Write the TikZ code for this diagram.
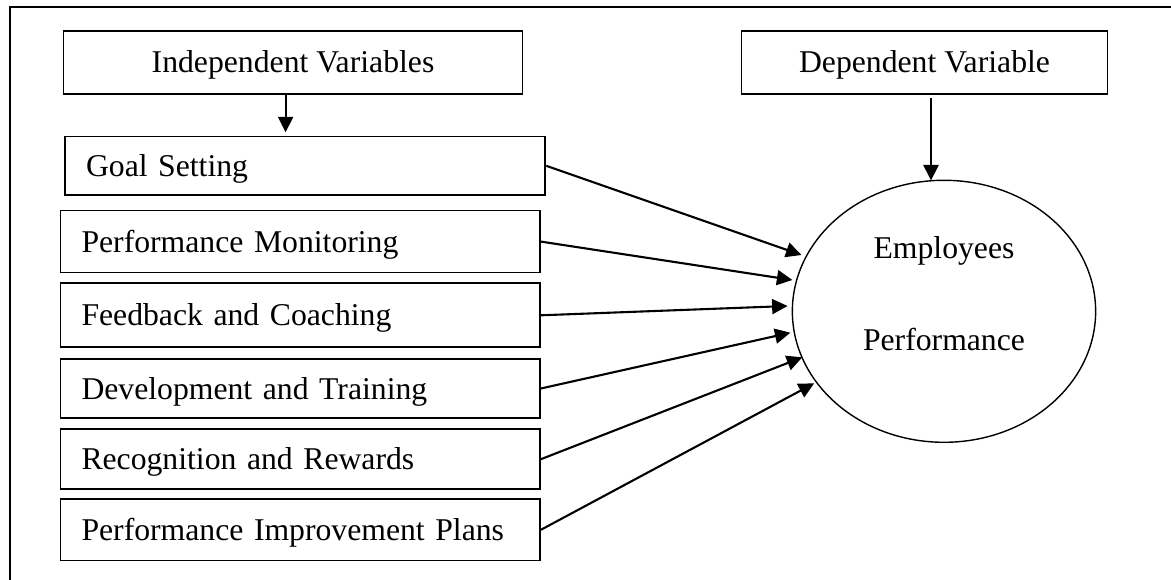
\documentclass[tikz,border=0pt]{standalone}
\usepackage{fontspec}
\setmainfont{Liberation Serif}
\usetikzlibrary{arrows.meta,shapes.geometric,calc}

\begin{document}
\begin{tikzpicture}[
  x=1pt, y=-1pt,
  every node/.style={font=\fontsize{31.7pt}{38pt}\selectfont},
  heading/.style={draw, line width=1.8pt, rectangle, inner sep=0pt,
    text height=21pt, text depth=0pt, align=center},
  varbox/.style={draw, line width=1.8pt, rectangle, inner xsep=21pt, inner ysep=0pt,
    text height=21pt, text depth=0pt, align=left},
  outcome/.style={draw, line width=1.4pt, ellipse, inner sep=0pt},
  conn/.style={line width=2.1pt, -{Triangle[length=15.5pt,width=15pt]}},
  frame/.style={line width=1.4pt}
]
\useasboundingbox (0,0) rectangle (1171,580);

% outer frame (top and left edges)
\draw[frame] (10,580) -- (10,7) -- (1171,7);

% headings
\node[heading, minimum width=459pt, minimum height=63pt] (iv) at (293,62.5) {Independent Variables};
\node[heading, minimum width=366pt, minimum height=63pt] (dv) at (924.5,62.5) {Dependent Variable};

% independent variables
\node[varbox, text width=438.3pt, minimum height=58.5pt] (goal) at (305.2,165.8) {Goal Setting};
\node[varbox, text width=437.5pt, minimum height=62pt] (mon) at (300.25,241.6) {Performance Monitoring};
\node[varbox, text width=437.5pt, minimum height=64pt] (fb) at (300.25,315.3) {Feedback and Coaching};
\node[varbox, text width=437.5pt, minimum height=59.6pt] (dev) at (300.25,388.5) {Development and Training};
\node[varbox, text width=437.5pt, minimum height=60.3pt] (rec) at (300.25,459.2) {Recognition and Rewards};
\node[varbox, text width=437.5pt, minimum height=61.5pt] (pip) at (300.25,529.8) {Performance Improvement Plans};

% dependent variable
\node[outcome, minimum width=303.3pt, minimum height=262pt] (perf) at (944,311.3) {};
\node[anchor=base, inner sep=0pt] (perfA) at (944,258.3) {Employees};
\node[anchor=base, inner sep=0pt] (perfB) at (944,350.7) {Performance};

% arrow end points
\coordinate (ivtip) at (285.6,132.3);
\coordinate (dvtip) at (931,180.5);
\coordinate (t1) at (801.5,255);
\coordinate (t2) at (792.4,280);
\coordinate (t3) at (787.6,306);
\coordinate (t4) at (790.4,332.7);
\coordinate (t5) at (802.3,357.3);
\coordinate (t6) at (814.2,383.3);

% connectors
\draw[conn] (ivtip |- iv.south) -- (ivtip);
\draw[conn] ($(dvtip |- dv.south)+(0,3)$) -- (dvtip);
\draw[conn] (goal.east) -- (t1);
\draw[conn] (mon.east) -- (t2);
\draw[conn] (fb.east) -- (t3);
\draw[conn] (dev.east) -- (t4);
\draw[conn] (rec.east) -- (t5);
\draw[conn] (pip.east) -- (t6);
\end{tikzpicture}
\end{document}
